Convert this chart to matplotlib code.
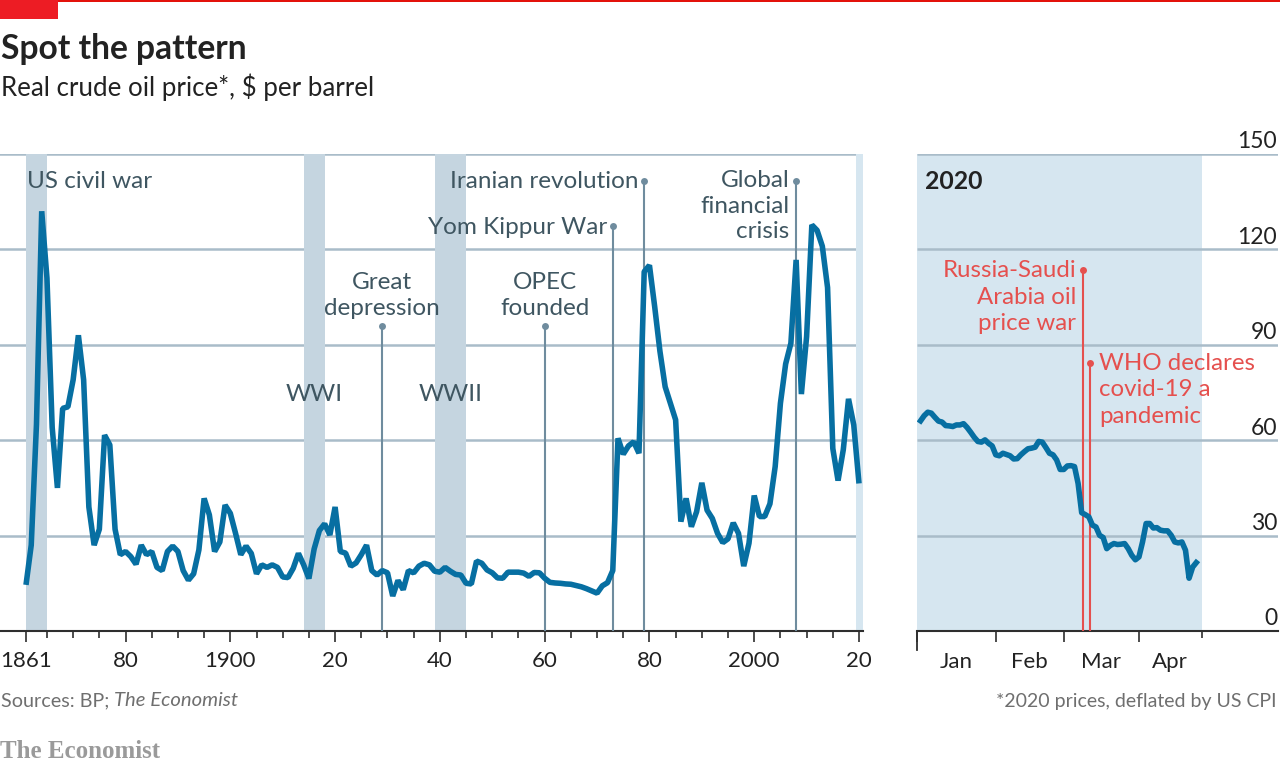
import matplotlib
matplotlib.use("Agg")
import matplotlib.pyplot as plt
from matplotlib.patches import Rectangle
import numpy as np

W, H = 1280, 767
plt.rcParams["font.family"] = ["Lato", "DejaVu Sans"]

years = list(range(1861, 2021))
price = [14.5, 27, 65, 132, 111, 64, 45, 70, 70.5, 79,
         93, 79, 39, 27, 32, 61.6, 58.5, 32, 24, 25,
         23.4, 21, 27, 24, 25, 20, 19, 25, 26.7, 25,
         19, 16, 18, 25.5, 41.7, 36.5, 25, 28, 39.6, 37,
         30.7, 24, 26.7, 24.4, 18, 20.8, 20, 20.8, 20, 17,
         16.8, 19.7, 24.4, 20.8, 16.5, 25.8, 31.6, 33.7, 30.2, 39,
         25, 24.5, 20.4, 21.4, 24, 27, 19, 17.6, 19, 18.3,
         11, 15.9, 13, 19, 18.3, 20.4, 21.3, 20.8, 18.8, 18.5,
         20, 18.8, 17.8, 17.6, 15, 14.8, 22, 21.3, 19.2, 18.3,
         16.7, 16.6, 18.5, 18.5, 18.5, 18.2, 17.2, 18.4, 18.3, 16.6,
         15.3, 15.1, 15, 14.8, 14.7, 14.3, 13.9, 13.3, 12.6, 11.9,
         14.2, 15.2, 19, 60.6, 55.6, 58.2, 59.5, 55.9, 113, 115,
         102, 88, 76.8, 71.6, 66.4, 34.4, 41.7, 32.8, 37.5, 46.6,
         38, 35.4, 30.7, 27.8, 29, 34, 30.7, 20.4, 27.6, 42.6,
         36, 36, 40, 51.7, 71.6, 84, 90.5, 116.7, 74.5, 92.6,
         127.7, 126, 121, 108, 57.4, 47.3, 57, 73, 64.8, 46.4]

# 2020 panel, one value per trading day
price_2020 = [66.1, 67.7, 68.8, 68.5, 67.2, 66, 65.7, 64.6, 64.5, 64.3,
              64.8, 64.8, 65.2, 64, 62.5, 60.9, 59.6, 59.4, 60.1, 59,
              58.2, 55.4, 55.1, 55.9, 55.5, 55.1, 54.1, 54.2, 55.4, 56.4,
              57.3, 57.5, 57.8, 59.6, 59.4, 57.7, 55.9, 55.4, 53.8, 50.8,
              50.8, 51.9, 52, 51.7, 46.4, 37.2, 36.6, 35.9, 33.3, 32.7,
              30.1, 29.4, 25.9, 26.9, 27.5, 27.2, 27.3, 27.5, 25.9, 23.8,
              22.4, 23.3, 28, 33.8, 33.8, 32.4, 32.5, 31.7, 31.5, 31.5,
              30.1, 28, 27.7, 28, 25.4, 16.6, 20.1, 21.5]
days_2020 = list(range(1, len(price_2020) + 1))

wars = [("US civil war", 1861, 1865), ("WWI", 1914, 1918), ("WWII", 1939, 1945)]
events = [(1929, 96), (1960, 96), (1973, 127.4), (1979, 141.5), (2008, 141.5)]
events_2020 = [(46.3, 113.5), (48.3, 84.3)]
yticks = [0, 30, 60, 90, 120, 150]
year_ticks = [1861, 1880, 1900, 1920, 1940, 1960, 1980, 2000, 2020]
year_labels = ["1861", "80", "1900", "20", "40", "60", "80", "2000", "20"]
month_starts = [0, 22, 41, 62]
month_labels = [(11, "Jan"), (31.5, "Feb"), (51.5, "Mar"), (70.5, "Apr")]

BLUE = "#076fa2"
BAND = "#c5d5e0"
LIGHT = "#d6e6f0"
GRID = "#a9bcc9"
STEM = "#6f8c9e"
LABEL = "#3f5661"
RED = "#e5504e"
AXIS = "#2e2e2e"
INK = "#222222"


def px_axes(left, right, top, bottom):
    return fig.add_axes([left / W, 1 - bottom / H, (right - left) / W, (bottom - top) / H])


def px_text(x, y, s, **kw):
    fig.text(x / W, 1 - y / H, s, **kw)


fig = plt.figure(figsize=(W / 100, H / 100), dpi=100)
TICK = 0.72  # pt per px

# long run panel
ax = px_axes(0, 863, 154, 631)
ax.set_xlim(1861 - 26 / 5.24, 2020 + 4 / 5.24)
ax.set_ylim(0, 150)
ax.hlines(yticks[1:], 1850, 2030, color=GRID, lw=1.8, zorder=1)
for name, start, end in wars:
    ax.axvspan(start, end, color=BAND, lw=0, zorder=2)
ax.axvspan(2019.4, 2021, color=LIGHT, lw=0, zorder=2)
for yr, top in events:
    ax.plot([yr, yr], [0, top], color=STEM, lw=1.5, zorder=3)
    ax.plot([yr], [top], "o", color=STEM, ms=5, mew=0, zorder=3)
ax.plot(years, price, color=BLUE, lw=4, solid_joinstyle="bevel", solid_capstyle="butt", zorder=4)

ax.set_yticks([])
ax.set_xticks(year_ticks, year_labels, fontsize=16, color=INK)
ax.set_xticks([1865 + 5 * i for i in range(32)], minor=True)
ax.tick_params(axis="x", which="major", length=11 * TICK, width=1.2, color=AXIS, pad=6.5)
ax.tick_params(axis="x", which="minor", length=7 * TICK, width=1.2, color=AXIS)
for s in ["top", "left", "right"]:
    ax.spines[s].set_visible(False)
ax.spines["bottom"].set(color=AXIS, lw=1.5)
ax.patch.set_alpha(0)

ann = dict(fontsize=17.5, color=LABEL, linespacing=1.28)
ax.text(1861.2, 141.3, "US civil war", ha="left", va="center", zorder=5, **ann)
ax.text(1916, 74.5, "WWI", ha="center", va="center", zorder=5, **ann)
ax.text(1942, 74.5, "WWII", ha="center", va="center", zorder=5, **ann)
ax.text(1929, 105.4, "Great\ndepression", ha="center", va="center", zorder=5, **ann)
ax.text(1960, 105.4, "OPEC\nfounded", ha="center", va="center", zorder=5, **ann)
ax.text(1971.9, 126.8, "Yom Kippur War", ha="right", va="center", zorder=5, **ann)
ax.text(1977.9, 141.3, "Iranian revolution", ha="right", va="center", zorder=5, **ann)
ax.text(2006.7, 133.6, "Global\nfinancial\ncrisis", ha="right", va="center", zorder=5, **ann)

# 2020 panel
ax2 = px_axes(917, 1278, 154, 631)
ax2.set_xlim(0, 361 / 3.58)
ax2.set_ylim(0, 150)
ax2.axvspan(0, 79.6, color=LIGHT, lw=0, zorder=0)
ax2.hlines(yticks[1:], 0, 110, color=GRID, lw=1.8, zorder=1)
for day, top in events_2020:
    ax2.plot([day, day], [0, top], color=RED, lw=1.5, zorder=3)
    ax2.plot([day], [top], "o", color=RED, ms=5, mew=0, zorder=3)
ax2.plot(days_2020, price_2020, color=BLUE, lw=4, solid_joinstyle="round", zorder=4)

ax2.set_yticks([])
ax2.set_xticks(month_starts)
ax2.set_xticklabels([])
ax2.set_xticks([79.5], minor=True)
ax2.tick_params(axis="x", which="major", length=11 * TICK, width=1.2, color=AXIS)
ax2.tick_params(axis="x", which="minor", length=7 * TICK, width=1.2, color=AXIS)
ax2.plot([0, 0], [0, -6], color=AXIS, lw=1.3, clip_on=False, zorder=5)
for s in ["top", "left", "right"]:
    ax2.spines[s].set_visible(False)
ax2.spines["bottom"].set(color=AXIS, lw=1.5)
for day, name in month_labels:
    ax2.text(day, -9.6, name, ha="center", va="center", fontsize=16, color=INK)
for v in yticks:
    ax2.text(100.6, v + 3.8, str(v), ha="right", va="center", fontsize=16.5, color=INK)

ax2.text(2.2, 141.5, "2020", ha="left", va="center", fontsize=17.8, fontweight="bold", color=INK)
red = dict(fontsize=17.3, color=RED, linespacing=1.3, zorder=5)
ax2.text(44.4, 105, "Russia-Saudi\nArabia oil\nprice war", ha="right", va="center", **red)
ax2.text(50.8, 75.8, "WHO declares\ncovid-19 a\npandemic", ha="left", va="center", **red)

# header and footer
fig.add_artist(Rectangle((0, 1 - 2 / H), 1, 2 / H, transform=fig.transFigure, color="#e3120b", lw=0))
fig.add_artist(Rectangle((0, 1 - 19 / H), 58 / W, 19 / H, transform=fig.transFigure, color="#ed1c24", lw=0))
px_text(1, 49, "Spot the pattern", fontsize=24.2, fontweight="bold", color=INK, va="center")
px_text(1, 87, "Real crude oil price*, $ per barrel", fontsize=18.6, color=INK, va="center")
px_text(1, 701, "Sources: BP;", fontsize=14.2, color="#6f6f6f", va="center")
px_text(114, 701, "The Economist", fontsize=14.6, style="italic", color="#6f6f6f", va="center")
px_text(1277, 701, "*2020 prices, deflated by US CPI", fontsize=14, color="#6f6f6f", va="center", ha="right")
px_text(0, 752, "The Economist", fontsize=18, fontweight="bold", family="Liberation Serif", color="#9a9a9a", va="center")

fig.savefig("out.png", dpi=100)
